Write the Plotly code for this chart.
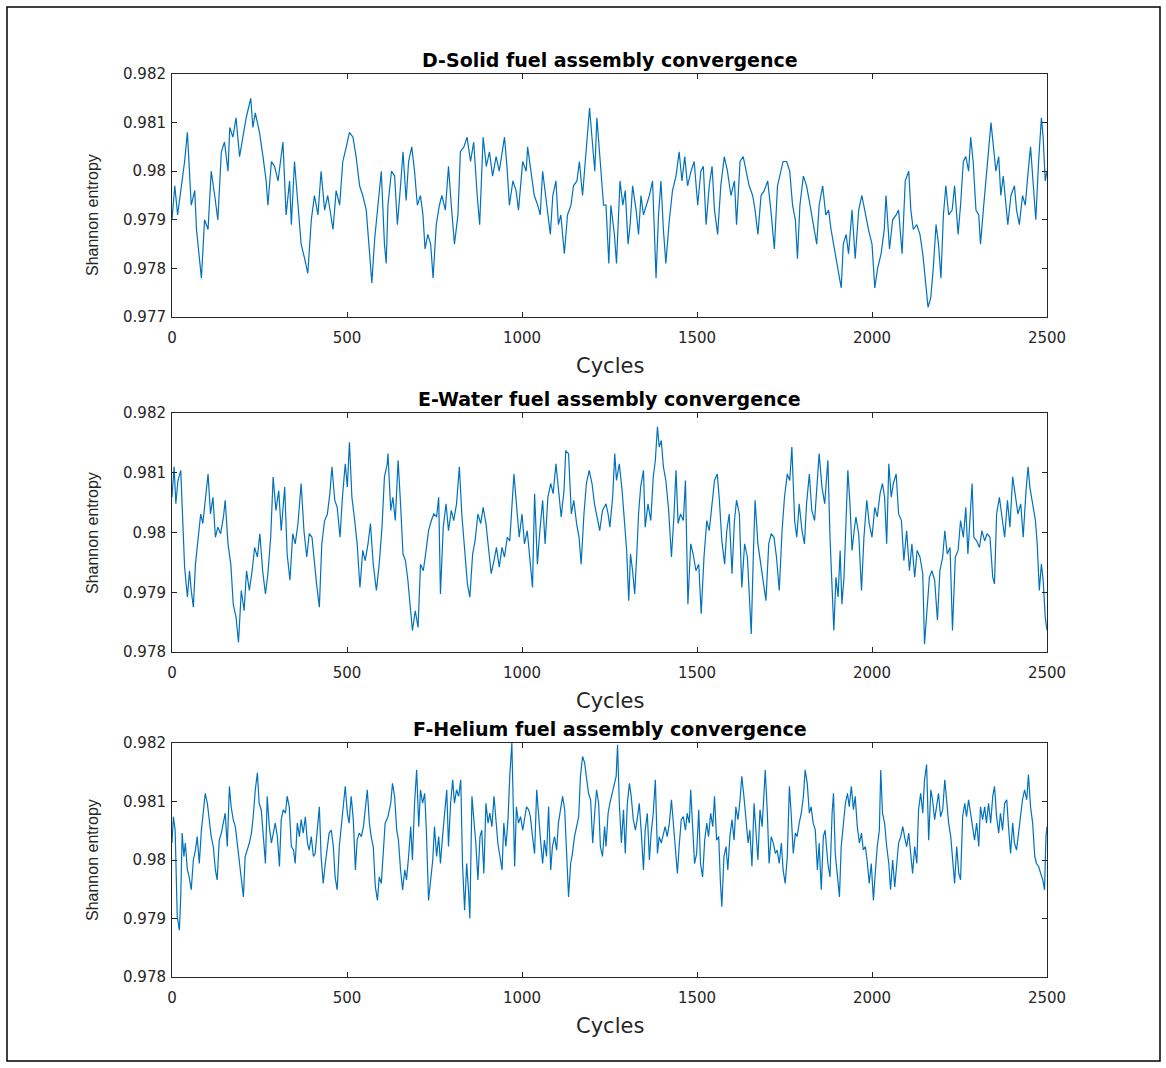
import plotly.graph_objects as go

# ---------------- data ----------------
panel_titles = ["D-Solid fuel assembly convergence",
                "E-Water fuel assembly convergence",
                "F-Helium fuel assembly convergence"]
x_label = "Cycles"
y_label = "Shannon entropy"
x_tickvals = [0, 500, 1000, 1500, 2000, 2500]
x_ticktext = ["0", "500", "1000", "1500", "2000", "2500"]
y_tickvals_d = [0.977, 0.978, 0.979, 0.980, 0.981, 0.982]
y_ticktext_d = ["0.977", "0.978", "0.979", "0.98", "0.981", "0.982"]
y_tickvals_ef = [0.978, 0.979, 0.980, 0.981, 0.982]
y_ticktext_ef = ["0.978", "0.979", "0.98", "0.981", "0.982"]

cycles_d = [0, 8, 16, 25, 36, 44, 55, 65, 70, 84, 93, 103, 112, 122, 131, 141, 150, 160, 165, 174,
            183, 193, 203, 212, 225, 231, 238, 250, 260, 269, 274, 284, 293, 303, 317, 326, 336, 341, 350, 360,
            369, 379, 388, 398, 407, 417, 426, 436, 445, 460, 469, 479, 488, 498, 507, 517, 526, 536, 545, 555,
            564, 571, 579, 588, 598, 607, 612,
            617, 627, 636, 644, 653, 660, 669, 676, 685, 693, 701, 710, 717, 723, 731, 739, 746, 755, 764, 771,
            781, 790, 798, 807, 817, 824, 834, 843, 853, 862, 872, 879, 889, 898, 907, 916, 926, 935, 950, 957,
            964, 974, 983, 990, 1002, 1012, 1016, 1026, 1035, 1045, 1052, 1059, 1066, 1073, 1081, 1088, 1097, 1104,
            1111, 1121, 1130, 1140, 1147, 1157, 1164, 1173, 1180, 1187, 1193, 1201, 1208, 1214, 1223, 1233,
            1240, 1248, 1254, 1264, 1270, 1280, 1288, 1295, 1303, 1309, 1316, 1326, 1333, 1340, 1347, 1356, 1364,
            1373, 1383, 1390, 1397, 1404, 1411, 1421, 1430, 1440, 1449, 1457, 1465, 1473, 1483, 1492, 1502, 1511,
            1518, 1526, 1535, 1543, 1550, 1559, 1568, 1578, 1587, 1597, 1607, 1613, 1623, 1632, 1640, 1649, 1659,
            1666, 1674, 1683, 1692, 1702, 1711, 1721, 1730, 1740, 1746, 1756, 1765, 1773, 1781, 1787, 1794, 1804,
            1813, 1823, 1830, 1842, 1849, 1859, 1868,
            1876, 1883, 1892, 1902, 1912, 1918, 1926, 1933, 1943, 1952, 1962, 1971, 1981, 1990, 2000, 2008, 2016,
            2026, 2035, 2040, 2050, 2059, 2069, 2076, 2086, 2095, 2105, 2111, 2118, 2128, 2137, 2145, 2152, 2160,
            2168, 2175, 2183, 2190, 2197, 2204, 2211, 2219, 2229, 2236, 2246, 2253, 2261, 2268, 2276, 2282, 2289,
            2297, 2305, 2310, 2318, 2326, 2333, 2340, 2347, 2354, 2362, 2368, 2375, 2383, 2388, 2397, 2407, 2413,
            2421, 2430, 2438, 2445, 2453, 2461, 2468, 2476, 2484, 2489, 2495, 2500]
entropy_d = [0.9790, 0.9797, 0.9791, 0.9796, 0.9802, 0.9808, 0.9793, 0.9796, 0.9788, 0.9778, 0.9790, 0.9788,
             0.9800, 0.9795, 0.9790, 0.9804, 0.9806, 0.9800, 0.9809, 0.9807, 0.9811, 0.9803, 0.9807, 0.9811,
             0.9815, 0.9809, 0.9812, 0.9808, 0.9803, 0.9798, 0.9793, 0.9802, 0.9801, 0.9798, 0.9806, 0.9791,
             0.9798, 0.9789, 0.9802, 0.9793, 0.9785, 0.9782, 0.9779, 0.9790, 0.9795, 0.9791, 0.9800, 0.9792,
             0.9795, 0.9788, 0.9796, 0.9793, 0.9802, 0.9805, 0.9808, 0.9807, 0.9803, 0.9797, 0.9795, 0.9792,
             0.9783, 0.9777, 0.9786, 0.9793, 0.9800, 0.9785, 0.9781,
             0.9793, 0.9800, 0.9799, 0.9789, 0.9797, 0.9804, 0.9794, 0.9802, 0.9805, 0.9800, 0.9793, 0.9795,
             0.9791, 0.9784, 0.9787, 0.9785, 0.9778, 0.9789, 0.9793, 0.9795, 0.9792, 0.9801, 0.9793, 0.9785,
             0.9791, 0.9804, 0.9805, 0.9807, 0.9802, 0.9806, 0.9795, 0.9789, 0.9807, 0.9801, 0.9804, 0.9799,
             0.9803, 0.9800, 0.9807, 0.9801, 0.9793, 0.9798, 0.9796, 0.9792, 0.9802, 0.9800, 0.9805, 0.9800,
             0.9795, 0.9793, 0.9791, 0.9800, 0.9796, 0.9791, 0.9787, 0.9795, 0.9798, 0.9789, 0.9791, 0.9783,
             0.9791, 0.9793, 0.9797, 0.9798, 0.9802, 0.9795, 0.9801, 0.9807, 0.9813, 0.9806, 0.9800, 0.9811,
             0.9802, 0.9793,
             0.9793, 0.9781, 0.9793, 0.9787, 0.9781, 0.9798, 0.9793, 0.9796, 0.9785, 0.9789, 0.9797, 0.9792,
             0.9787, 0.9795, 0.9791, 0.9793, 0.9795, 0.9798, 0.9778, 0.9791, 0.9798, 0.9788, 0.9781, 0.9790,
             0.9796, 0.9799, 0.9804, 0.9798, 0.9803, 0.9797, 0.9800, 0.9802, 0.9793, 0.9800, 0.9801, 0.9789,
             0.9797, 0.9801, 0.9792, 0.9787, 0.9797, 0.9803, 0.9800, 0.9795, 0.9798, 0.9789, 0.9802, 0.9803,
             0.9800, 0.9797, 0.9795, 0.9792, 0.9787, 0.9795, 0.9796, 0.9798, 0.9792, 0.9784, 0.9797, 0.9800,
             0.9802, 0.9802, 0.9800, 0.9793, 0.9790, 0.9782, 0.9793, 0.9799, 0.9797, 0.9793, 0.9790, 0.9785,
             0.9793, 0.9797, 0.9791,
             0.9792, 0.9788, 0.9784, 0.9780, 0.9776, 0.9785, 0.9787, 0.9783, 0.9792, 0.9782, 0.9792, 0.9795,
             0.9791, 0.9788, 0.9785, 0.9776, 0.9780, 0.9783, 0.9788, 0.9795, 0.9784, 0.9790, 0.9791, 0.9792,
             0.9783, 0.9798, 0.9800, 0.9792, 0.9788, 0.9789, 0.9787, 0.9783, 0.9778, 0.9772, 0.9774, 0.9780,
             0.9789, 0.9785, 0.9778, 0.9791, 0.9797, 0.9791, 0.9792, 0.9797, 0.9787, 0.9793, 0.9802, 0.9803,
             0.9800, 0.9807, 0.9802, 0.9792, 0.9791, 0.9785, 0.9792, 0.9799, 0.9804, 0.9810, 0.9805, 0.9800,
             0.9803, 0.9795, 0.9799, 0.9793, 0.9789, 0.9795, 0.9797, 0.9792, 0.9789, 0.9795, 0.9793, 0.9799,
             0.9805, 0.9797, 0.9790, 0.9802, 0.9811, 0.9807, 0.9798, 0.9800]

cycles_e = [0, 6, 11, 17, 25, 30, 36, 44, 50, 55, 61, 67, 74, 82, 88, 95, 103, 110, 117, 124, 131, 139, 147,
            152, 160, 168, 175, 183, 190, 198, 206, 213, 221, 229, 236, 244, 251, 259, 267, 274, 282, 289, 297,
            305, 312, 322, 329, 337, 345, 352, 360, 369, 377, 385, 392, 400, 407, 413, 421, 428, 436, 444, 451,
            457, 465, 472, 480, 487, 495, 501, 507, 514, 522, 529, 537, 545, 552, 560, 567, 575, 584, 592, 600,
            607, 615,
            617, 625, 631, 638, 646, 653, 660, 667, 674, 680, 687, 695, 703, 710, 718, 726, 733, 741, 748, 756,
            762, 767, 775, 783, 790, 798, 805, 813, 821, 828, 836, 844, 851, 859, 866, 874, 882, 889, 897, 905,
            912, 920, 927, 935, 943, 950, 958, 965, 971, 977, 984, 992, 1000, 1007, 1015, 1023, 1030, 1036, 1044,
            1051, 1059, 1066, 1074, 1082, 1089, 1097, 1104, 1112, 1120, 1125, 1133, 1141, 1148, 1156, 1163, 1169,
            1177, 1184, 1192, 1200, 1207, 1215, 1222, 1230,
            1240, 1246, 1251, 1259, 1265, 1270, 1278, 1286, 1293, 1299, 1305, 1310, 1316, 1322, 1328, 1333, 1339,
            1347, 1352, 1360, 1368, 1375, 1381, 1387, 1392, 1398, 1404, 1411, 1419, 1427, 1434, 1440, 1446, 1453,
            1461, 1467, 1474, 1482, 1489, 1497, 1505, 1512, 1520, 1528, 1535, 1543, 1550, 1558, 1564, 1571, 1579,
            1585, 1592, 1600, 1607, 1613, 1621, 1628, 1636, 1644, 1649, 1655, 1661, 1666, 1674, 1682, 1689, 1697,
            1705, 1712, 1720, 1727, 1735, 1743, 1750, 1758, 1765, 1771, 1779, 1785, 1792, 1800, 1807, 1813, 1821,
            1828, 1836, 1844, 1849, 1857, 1865,
            1869, 1874, 1880, 1886, 1891, 1897, 1903, 1909, 1914, 1920, 1926, 1931, 1937, 1943, 1949, 1954, 1962,
            1970, 1977, 1985, 1992, 2000, 2008, 2015, 2023, 2030, 2036, 2042, 2048, 2055, 2061, 2069, 2076, 2084,
            2091, 2099, 2107, 2114, 2122, 2129, 2137, 2145, 2150, 2156, 2164, 2171, 2179, 2187, 2194, 2202, 2208,
            2215, 2223, 2230, 2238, 2246, 2253, 2261, 2268, 2274, 2280, 2286, 2291, 2299, 2307, 2314, 2322, 2329,
            2337, 2345, 2350, 2356, 2364, 2371, 2379, 2387, 2394, 2402, 2409, 2417, 2425, 2432, 2440, 2446, 2451,
            2459, 2467, 2472, 2478, 2484, 2489, 2495, 2500]
entropy_e = [0.98059, 0.98110, 0.98048, 0.98087, 0.98104, 0.98037, 0.97942, 0.97892, 0.97936, 0.97903, 0.97875,
             0.97947, 0.97992, 0.98031, 0.98015, 0.98054, 0.98098, 0.98031, 0.98059, 0.97992, 0.98009, 0.97998,
             0.98026, 0.98054, 0.97981, 0.97947, 0.97880, 0.97858, 0.97816, 0.97903, 0.97869, 0.97936, 0.97903,
             0.97936, 0.97975, 0.97959, 0.97998, 0.97936, 0.97897, 0.97931, 0.97992, 0.98093, 0.98037, 0.98070,
             0.98003, 0.98076, 0.97964, 0.97920, 0.97998, 0.97981, 0.98015, 0.98082, 0.98003, 0.97959, 0.97998,
             0.97992, 0.97947, 0.97914, 0.97875, 0.97981, 0.98020, 0.98031, 0.98065, 0.98110, 0.98054, 0.98042,
             0.97992, 0.98059, 0.98115, 0.98076, 0.98151, 0.98059, 0.98020, 0.97981, 0.97908, 0.97970, 0.97953,
             0.97981, 0.98015, 0.97947, 0.97903, 0.97947, 0.98009, 0.98093, 0.98115,
             0.98132, 0.98037, 0.98059, 0.98020, 0.98121, 0.98048, 0.97964, 0.97953, 0.97920, 0.97880, 0.97836,
             0.97869, 0.97841, 0.97947, 0.97936, 0.97970, 0.98003, 0.98020, 0.98031, 0.98026, 0.98059, 0.97897,
             0.98009, 0.98048, 0.98003, 0.98037, 0.98020, 0.98048, 0.98110, 0.98031, 0.97975, 0.97914, 0.97892,
             0.97964, 0.97986, 0.98031, 0.98015, 0.98042, 0.98015, 0.97970, 0.97931, 0.97953, 0.97975, 0.97942,
             0.97975, 0.97959, 0.97992, 0.97986, 0.98048, 0.98098, 0.98048, 0.97992, 0.98031, 0.97981, 0.98003,
             0.97953, 0.97908, 0.98065, 0.97947, 0.98003, 0.98054, 0.97981, 0.98059, 0.98082, 0.98065, 0.98115,
             0.98076, 0.98026, 0.98070, 0.98137, 0.98132, 0.98031, 0.98054, 0.98015, 0.97992, 0.97947, 0.98031,
             0.98082, 0.98104, 0.98082, 0.98048, 0.98020, 0.98003, 0.98037,
             0.98048, 0.98031, 0.98009, 0.98059, 0.98132, 0.98087, 0.98115, 0.98070, 0.98020, 0.97970, 0.97886,
             0.97964, 0.97936, 0.97897, 0.97964, 0.98031, 0.98076, 0.98104, 0.98009, 0.98048, 0.98020, 0.98093,
             0.98121, 0.98177, 0.98143, 0.98154, 0.98110, 0.98087, 0.98037, 0.97959, 0.98026, 0.98104, 0.98015,
             0.98031, 0.98020, 0.98087, 0.97880, 0.97981, 0.97964, 0.97936, 0.97947, 0.97864, 0.97959, 0.98020,
             0.98003, 0.98048, 0.98087, 0.98098, 0.98054, 0.97986, 0.97947, 0.98003, 0.98031, 0.97931, 0.98020,
             0.98054, 0.98031, 0.97908, 0.97981, 0.97959, 0.97903, 0.97830, 0.97964, 0.98054, 0.97981, 0.97947,
             0.97914, 0.97886, 0.97981, 0.97998, 0.97992, 0.97959, 0.97903, 0.98003, 0.98059, 0.98098, 0.98087,
             0.98143, 0.98020, 0.97992, 0.98048, 0.98003, 0.97981, 0.98048, 0.98098, 0.98037, 0.98020, 0.98087,
             0.98132, 0.98076, 0.98048,
             0.98082, 0.98121, 0.97992, 0.97903, 0.97836, 0.97925, 0.97892, 0.97970, 0.97880, 0.97925, 0.98031,
             0.98104, 0.98048, 0.97970, 0.98003, 0.98026, 0.97998, 0.97903, 0.97992, 0.98054, 0.98015, 0.97992,
             0.98042, 0.98026, 0.98065, 0.98082, 0.98059, 0.97981, 0.98115, 0.98059, 0.98082, 0.98098, 0.98031,
             0.98020, 0.97953, 0.98003, 0.97936, 0.97981, 0.97925, 0.97970, 0.97959, 0.97931, 0.97813, 0.97864,
             0.97925, 0.97936, 0.97920, 0.97853, 0.97936, 0.97959, 0.98003, 0.97964, 0.97975, 0.97836, 0.97959,
             0.97970, 0.98020, 0.97992, 0.98042, 0.97964, 0.98015, 0.98082, 0.97992, 0.97986, 0.97975, 0.98003,
             0.97986, 0.97998, 0.97992, 0.97925, 0.97914, 0.98031, 0.98059, 0.98031, 0.97992, 0.98054, 0.98009,
             0.98093, 0.98065, 0.98031, 0.98048, 0.97992, 0.98070, 0.98110, 0.98076, 0.98048, 0.98020, 0.97981,
             0.97903, 0.97947, 0.97920, 0.97858, 0.97836]

cycles_f = [0, 4, 9, 15, 21, 25, 29, 34, 38, 44, 49, 55, 61, 67, 72, 78, 84, 89, 95, 101, 107, 112, 118, 124,
            129, 135, 141, 147, 152, 158, 164, 169, 175, 181, 187, 192, 198, 204, 209, 215, 221, 227, 232, 238,
            244, 249, 255, 261, 267, 272, 278, 284, 290, 295, 301, 307, 312, 318, 324, 329, 335, 341, 347, 352,
            358, 364, 369, 375, 381, 387, 392, 398, 404, 409, 415, 421, 426, 432, 438, 444, 449, 455, 461, 466,
            472, 478, 484, 489, 495, 501, 506, 512, 518, 524, 529, 535, 541, 547, 552, 558, 564, 569, 575, 581,
            587, 592, 598, 604, 609,
            617, 625, 630, 636, 642, 647, 653, 659, 665, 670, 676, 682, 687, 693, 699, 705, 710, 716, 722, 727,
            733, 739, 745, 750, 756, 762, 767, 773, 779, 785, 790, 796, 802, 807, 813, 819, 825, 830, 836, 842,
            847, 851, 857, 863, 868, 874, 880, 885, 891, 897, 903, 908, 914, 920, 925, 931, 937, 943, 948, 954,
            960, 965, 971, 975, 979, 984, 990, 996, 1002, 1007, 1013, 1019, 1024, 1030, 1036, 1042, 1047, 1053,
            1059, 1064, 1070, 1076, 1082, 1087, 1093, 1099, 1104, 1110, 1116, 1122, 1127, 1133, 1139, 1144, 1150,
            1156, 1162, 1167, 1173, 1179, 1184, 1190, 1196, 1202, 1207, 1213, 1219, 1224, 1230, 1236,
            1240, 1246, 1251, 1257, 1263, 1269, 1273, 1278, 1284, 1290, 1295, 1301, 1307, 1312, 1318, 1324, 1329,
            1335, 1341, 1347, 1352, 1358, 1364, 1369, 1375, 1381, 1387, 1392, 1398, 1404, 1409, 1415, 1421, 1427,
            1432, 1438, 1444, 1449, 1455, 1461, 1467, 1472, 1478, 1482, 1488, 1493, 1499, 1505, 1510, 1516, 1522,
            1528, 1533, 1539, 1545, 1550, 1556, 1562, 1567, 1571, 1577, 1583, 1588, 1594, 1600, 1606, 1611, 1617,
            1623, 1628, 1634, 1640, 1646, 1651, 1657, 1663, 1668, 1674, 1680, 1686, 1691, 1695, 1701, 1706, 1712,
            1718, 1724, 1729, 1735, 1741, 1746, 1752, 1758, 1764, 1769, 1775, 1781, 1786, 1792, 1798, 1804, 1809,
            1815, 1821, 1826, 1832, 1838, 1844, 1849, 1855, 1861, 1866,
            1874, 1880, 1886, 1890, 1895, 1901, 1907, 1912, 1918, 1924, 1930, 1935, 1941, 1947, 1952, 1958, 1964,
            1970, 1975, 1981, 1987, 1992, 1998, 2004, 2010, 2015, 2021, 2025, 2030, 2036, 2042, 2048, 2053, 2059,
            2065, 2070, 2076, 2082, 2088, 2093, 2099, 2105, 2110, 2116, 2122, 2128, 2133, 2139, 2145, 2150, 2156,
            2162, 2168, 2173, 2179, 2185, 2190, 2196, 2202, 2208, 2213, 2219, 2225, 2230, 2236, 2242, 2248, 2253,
            2259, 2265, 2270, 2276, 2282, 2288, 2293, 2299, 2305, 2310, 2316, 2322, 2327, 2333, 2339, 2345, 2350,
            2356, 2362, 2367, 2373, 2379, 2385, 2390, 2396, 2402, 2407, 2413, 2419, 2425, 2430, 2436, 2442, 2447,
            2453, 2459, 2465, 2470, 2476, 2482, 2488, 2493, 2497, 2500]
entropy_f = [0.98029, 0.98074, 0.98051, 0.97903, 0.97880, 0.97937, 0.98046, 0.98006, 0.98029, 0.97983, 0.97971,
             0.97949, 0.98000, 0.98017, 0.98040, 0.97994, 0.98051, 0.98080, 0.98114, 0.98097, 0.98063, 0.98040,
             0.98023, 0.97983, 0.97966, 0.98034, 0.98046, 0.98069, 0.98080, 0.98023, 0.98126, 0.98091, 0.98069,
             0.98057, 0.98023, 0.97994, 0.97960, 0.97937, 0.98006, 0.98017, 0.98029, 0.98046, 0.98074, 0.98120,
             0.98149, 0.98097, 0.98086, 0.98040, 0.97994, 0.98109, 0.98057, 0.98029, 0.98051, 0.98063, 0.98040,
             0.97989, 0.98069, 0.98086, 0.98080, 0.98109, 0.98091, 0.98023, 0.98017, 0.97994, 0.98063, 0.98040,
             0.98069, 0.98046, 0.98074, 0.98029, 0.98017, 0.98040, 0.98006, 0.98011, 0.98051, 0.98091, 0.98006,
             0.97960, 0.97994, 0.98029, 0.98046, 0.98051, 0.98023, 0.97971, 0.97949, 0.98023, 0.98063, 0.98086,
             0.98126, 0.98080, 0.98063, 0.98109, 0.98069, 0.97983, 0.98034, 0.98046, 0.98040, 0.98057, 0.98086,
             0.98120, 0.98063, 0.98040, 0.98023, 0.97954, 0.97931, 0.97971, 0.97960, 0.98023, 0.98063,
             0.98074, 0.98097, 0.98131, 0.98109, 0.98051, 0.98034, 0.97983, 0.97949, 0.97983, 0.97966, 0.98006,
             0.98057, 0.98000, 0.98097, 0.98154, 0.98057, 0.98120, 0.98097, 0.98114, 0.98046, 0.97931, 0.97966,
             0.98000, 0.98057, 0.98006, 0.98040, 0.97994, 0.98040, 0.98080, 0.98120, 0.98023, 0.98097, 0.98137,
             0.98097, 0.98120, 0.98109, 0.98137, 0.97994, 0.97914, 0.97994, 0.97949, 0.97900, 0.98109, 0.98069,
             0.98029, 0.97966, 0.98040, 0.98051, 0.97977, 0.98097, 0.98063, 0.98080, 0.98057, 0.98109, 0.98069,
             0.98029, 0.98006, 0.97983, 0.98063, 0.98023, 0.98069, 0.98143, 0.98200, 0.98097, 0.97989, 0.98091,
             0.98063, 0.98074, 0.98051, 0.98069, 0.98091, 0.98086, 0.98074, 0.98040, 0.98011, 0.98120, 0.98074,
             0.98034, 0.97994, 0.98034, 0.98006, 0.98091, 0.97983, 0.98023, 0.98040, 0.98017, 0.98063, 0.98086,
             0.98109, 0.98086, 0.98029, 0.97937, 0.97994, 0.98011, 0.98040, 0.98057, 0.98074, 0.98143, 0.98177,
             0.98166, 0.98137, 0.98114, 0.98103, 0.98029, 0.98074, 0.98120, 0.98097, 0.98023, 0.98006, 0.98057,
             0.98023, 0.98080, 0.98097, 0.98114, 0.98126, 0.98143, 0.98197, 0.98097, 0.98029, 0.98086, 0.98011,
             0.98097, 0.98131, 0.98109, 0.98069, 0.98051, 0.98069, 0.98097, 0.98046, 0.97983, 0.98051, 0.98080,
             0.98000, 0.98046, 0.98080, 0.98137, 0.98011, 0.98040, 0.98029, 0.98046, 0.98057, 0.98040, 0.98063,
             0.98103, 0.98063, 0.98023, 0.97977, 0.98023, 0.98069, 0.98074, 0.98051, 0.98080, 0.98063, 0.98120,
             0.98040, 0.97994, 0.98011, 0.98086, 0.97994, 0.97971, 0.98034, 0.98063, 0.98040, 0.98080, 0.98057,
             0.98109, 0.98034, 0.98040, 0.97960, 0.97920, 0.98006, 0.98023, 0.97983, 0.98040, 0.98069, 0.98034,
             0.98091, 0.98069, 0.98103, 0.98143, 0.98109, 0.98063, 0.98029, 0.98051, 0.97989, 0.98097, 0.98051,
             0.98000, 0.98086, 0.98057, 0.98109, 0.98154, 0.98080, 0.97994, 0.98040, 0.98029, 0.98011, 0.98017,
             0.97994, 0.98029, 0.97983, 0.97960, 0.98006, 0.98126, 0.98080, 0.98011, 0.98046, 0.98040, 0.98063,
             0.98080, 0.98109, 0.98154, 0.98131, 0.98080, 0.98091, 0.98063, 0.98051, 0.97983, 0.98029, 0.97949,
             0.98040, 0.98051,
             0.97994, 0.97971, 0.98080, 0.98114, 0.98011, 0.97971, 0.97937, 0.98023, 0.98057, 0.98097, 0.98114,
             0.98091, 0.98126, 0.98086, 0.98109, 0.98057, 0.98029, 0.98046, 0.98017, 0.98023, 0.97994, 0.97960,
             0.97994, 0.97931, 0.97983, 0.98023, 0.98051, 0.98154, 0.98080, 0.98063, 0.98023, 0.97994, 0.97949,
             0.98000, 0.97954, 0.97994, 0.98029, 0.98040, 0.98057, 0.98040, 0.98023, 0.98046, 0.98011, 0.97977,
             0.98023, 0.97994, 0.98086, 0.98114, 0.98080, 0.98137, 0.98163, 0.98034, 0.98120, 0.98103, 0.98069,
             0.98097, 0.98114, 0.98074, 0.98086, 0.98137, 0.98103, 0.98063, 0.98040, 0.98006, 0.97960, 0.98023,
             0.97977, 0.97966, 0.98074, 0.98097, 0.98074, 0.98103, 0.98080, 0.98051, 0.98034, 0.98063, 0.98023,
             0.98091, 0.98069, 0.98091, 0.98063, 0.98097, 0.98063, 0.98109, 0.98126, 0.98074, 0.98046, 0.98080,
             0.98051, 0.98097, 0.98103, 0.98057, 0.98011, 0.98063, 0.98029, 0.98017, 0.98051, 0.98080, 0.98103,
             0.98120, 0.98103, 0.98146, 0.98091, 0.98063, 0.98006, 0.97994, 0.97989, 0.97977, 0.97966, 0.97949,
             0.98040, 0.98057]

# ---------------- figure ----------------
W, H = 1166, 1068
PLOT_L, PLOT_R = 172, 1047
PANELS_PX = [(74, 317), (413, 652), (743, 977)]  # top, bottom pixel rows of each axes box
TOP, BOTTOM = PANELS_PX[0][0], PANELS_PX[-1][1]
PH = BOTTOM - TOP
PW = PLOT_R - PLOT_L

def fy(py):
    return (BOTTOM - py) / PH

def fx(px):
    return (px - PLOT_L) / PW

FONT = "DejaVu Sans, Liberation Sans, Arial, sans-serif"
VFONT = "Liberation Sans, Arial, sans-serif"
LINE_COL = "#0072BD"
AX_COL = "#262626"

series = [(cycles_d, entropy_d, [0.977, 0.982], y_tickvals_d, y_ticktext_d),
          (cycles_e, entropy_e, [0.978, 0.982], y_tickvals_ef, y_ticktext_ef),
          (cycles_f, entropy_f, [0.978, 0.982], y_tickvals_ef, y_ticktext_ef)]

fig = go.Figure()
layout = dict(width=W, height=H, margin=dict(l=PLOT_L, r=W - PLOT_R, t=TOP, b=H - BOTTOM),
              paper_bgcolor="white", plot_bgcolor="white", showlegend=False,
              font=dict(family=FONT, color=AX_COL))
annotations = []
label_centers = [215, 533, 860]
for i, (cx, cy, yr, ytv, ytt) in enumerate(series):
    n = "" if i == 0 else str(i + 1)
    top, bot = PANELS_PX[i]
    fig.add_trace(go.Scatter(x=cx, y=cy, mode="lines", line=dict(color=LINE_COL, width=1.2),
                             xaxis="x" + n, yaxis="y" + n, hoverinfo="skip"))
    common = dict(showline=True, linecolor=AX_COL, linewidth=1, mirror="allticks", ticks="inside",
                  ticklen=5, tickcolor=AX_COL, showgrid=False, zeroline=False,
                  tickfont=dict(family=FONT, size=15, color=AX_COL))
    layout["xaxis" + n] = dict(domain=[0, 1], range=[0, 2500], anchor="y" + n, ticklabelstandoff=7,
                               tickmode="array", tickvals=x_tickvals, ticktext=x_ticktext, **common)
    layout["yaxis" + n] = dict(domain=[fy(bot), fy(top)], range=yr, anchor="x" + n, ticklabelstandoff=2,
                               tickmode="array", tickvals=ytv, ticktext=ytt, **common)
    annotations.append(dict(text="<b>" + panel_titles[i] + "</b>", xref="paper", yref="paper",
                            x=0.5, y=fy(top), xanchor="center", yanchor="middle", yshift=14,
                            showarrow=False, font=dict(family=FONT, size=19, color="#000000")))
    annotations.append(dict(text=x_label, xref="paper", yref="paper", x=0.5, y=fy(bot),
                            xanchor="center", yanchor="middle", yshift=-49, showarrow=False,
                            font=dict(family=FONT, size=21, color=AX_COL)))
    annotations.append(dict(text=y_label, xref="paper", yref="paper", x=fx(92), y=fy(label_centers[i]),
                            xanchor="center", yanchor="middle", textangle=-90, showarrow=False,
                            font=dict(family=VFONT, size=16, color=AX_COL)))
layout["annotations"] = annotations
layout["shapes"] = [dict(type="rect", xref="paper", yref="paper", x0=fx(7), x1=fx(1160),
                         y0=fy(1061), y1=fy(7), line=dict(color="#000000", width=1.5))]
fig.update_layout(**layout)
fig.write_html("out.html")
